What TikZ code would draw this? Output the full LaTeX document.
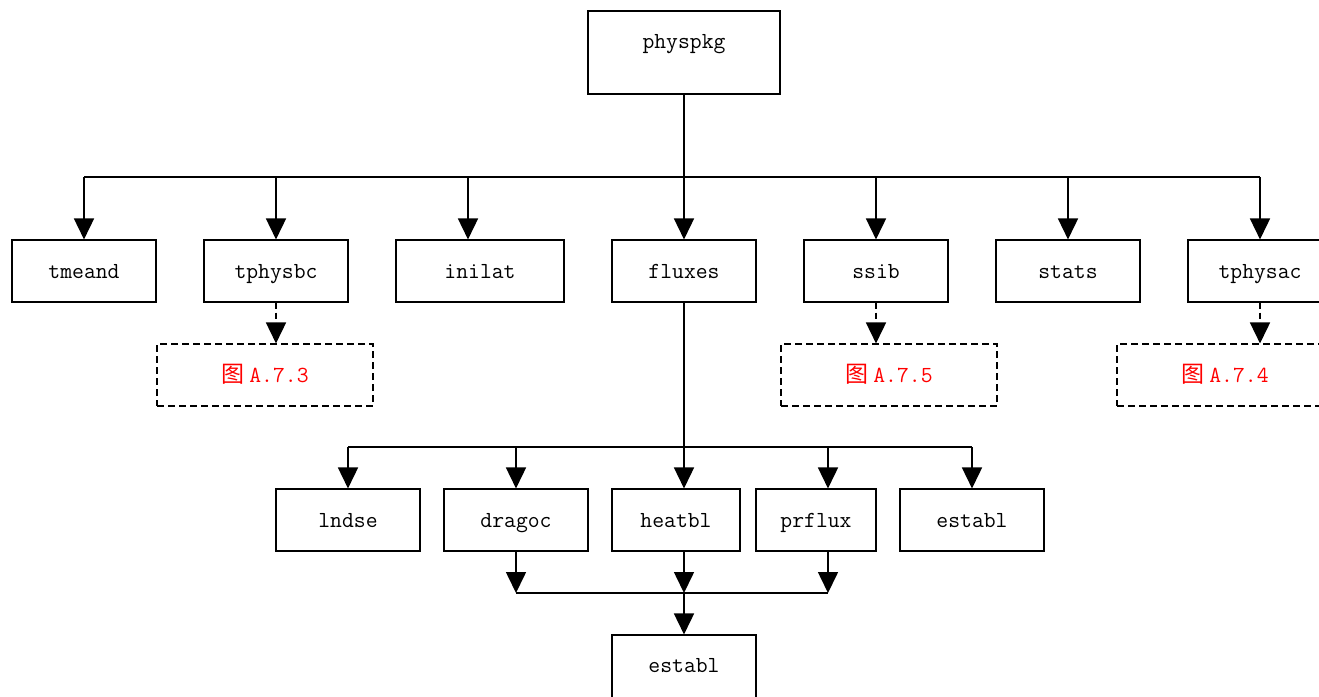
\documentclass[tikz,border=0pt]{standalone}
\usepackage{fontspec}
\newfontfamily\cjk{Noto Sans CJK SC}
\usetikzlibrary{arrows.meta}

\begin{document}
\begin{tikzpicture}[x=1pt,y=-1pt,
  box/.style={draw, line width=1.1pt, minimum width=144pt, minimum height=62pt,
    inner sep=0pt, font=\fontsize{23}{24}\selectfont\ttfamily,
    text height=14pt, text depth=0pt},
  bigbox/.style={box, minimum width=192pt, minimum height=83pt, text depth=22pt},
  refbox/.style={box, dash pattern=on 7pt off 4pt, minimum width=216pt, text=red},
  bus/.style={line width=1.6pt},
  link/.style={bus, -{Triangle[length=21pt,width=20pt]}},
  dlink/.style={link, dash pattern=on 6pt off 4pt}]

  % canvas
  \fill[white] (0,0) rectangle (1319,696);
  \useasboundingbox (0,0) rectangle (1319,696);

  % top module
  \node[bigbox] (physpkg) at (684,52.5) {physpkg};

  % second level
  \node[box] (tmeand)  at (84,271)   {tmeand};
  \node[box] (tphysbc) at (276,271)  {tphysbc};
  \node[box, minimum width=168pt] (inilat) at (480,271) {inilat};
  \node[box] (fluxes)  at (684,271)  {fluxes};
  \node[box] (ssib)    at (876,271)  {ssib};
  \node[box] (stats)   at (1068,271) {stats};
  \node[box] (tphysac) at (1260,271) {tphysac};

  % cross references
  \node[refbox] (figA73) at (265,375)  {{\cjk 图}\hspace{5pt}A.7.3};
  \node[refbox] (figA75) at (889,375)  {{\cjk 图}\hspace{5pt}A.7.5};
  \node[refbox] (figA74) at (1225,375) {{\cjk 图}\hspace{5pt}A.7.4};

  % third level
  \node[box] (lndse)  at (348,520) {lndse};
  \node[box] (dragoc) at (516,520) {dragoc};
  \node[box, minimum width=128pt] (heatbl) at (676,520) {heatbl};
  \node[box, minimum width=120pt] (prflux) at (816,520) {prflux};
  \node[box] (establA) at (972,520) {establ};

  % bottom module
  \node[bigbox, minimum width=144pt] (establB) at (684,676.5) {establ};

  % bus junctions
  \coordinate (tbus) at (684,177);
  \coordinate (fbus) at (684,447);
  \coordinate (mbus) at (684,593);
  \coordinate (inA) at ([xshift=-12pt]inilat.north);
  \coordinate (heA) at ([xshift=8pt]heatbl.north);
  \coordinate (heB) at ([xshift=8pt]heatbl.south);
  \coordinate (prA) at ([xshift=12pt]prflux.north);
  \coordinate (prB) at ([xshift=12pt]prflux.south);

  % physpkg -> second level
  \draw[bus] (tmeand.north |- tbus) -- (tphysac.north |- tbus);
  \draw[link] (physpkg.south) -- (fluxes.north);
  \draw[link] (tmeand.north |- tbus) -- (tmeand.north);
  \draw[link] (tphysbc.north |- tbus) -- (tphysbc.north);
  \draw[link] (inA |- tbus) -- (inA);
  \draw[link] (ssib.north |- tbus) -- (ssib.north);
  \draw[link] (stats.north |- tbus) -- (stats.north);
  \draw[link] (tphysac.north |- tbus) -- (tphysac.north);

  % references to other figures
  \draw[dlink] (tphysbc.south) -- (tphysbc.south |- figA73.north);
  \draw[dlink] (ssib.south) -- (ssib.south |- figA75.north);
  \draw[dlink] (tphysac.south) -- (tphysac.south |- figA74.north);

  % fluxes -> third level
  \draw[bus] (fluxes.south) -- (fbus);
  \draw[bus] (lndse.north |- fbus) -- (establA.north |- fbus);
  \draw[link] (lndse.north |- fbus) -- (lndse.north);
  \draw[link] (dragoc.north |- fbus) -- (dragoc.north);
  \draw[link] (heA |- fbus) -- (heA);
  \draw[link] (prA |- fbus) -- (prA);
  \draw[link] (establA.north |- fbus) -- (establA.north);

  % third level -> establ
  \draw[bus] (dragoc.south |- mbus) -- (prB |- mbus);
  \draw[link] (dragoc.south) -- (dragoc.south |- mbus);
  \draw[link] (heB) -- (heB |- mbus);
  \draw[link] (prB) -- (prB |- mbus);
  \draw[link] (mbus) -- (establB.north);
\end{tikzpicture}
\end{document}
